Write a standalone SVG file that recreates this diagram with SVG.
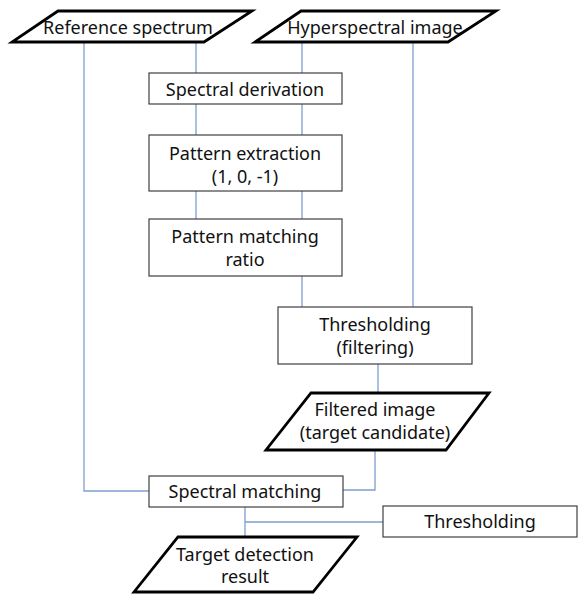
<svg xmlns="http://www.w3.org/2000/svg" width="583" height="595" viewBox="0 0 583 595">
<style>
text{font-family:"Noto Sans","Open Sans","DejaVu Sans",sans-serif;font-size:18px;fill:#111;text-anchor:middle}
.box{fill:#fff;stroke:#404040;stroke-width:1.2}
.io{fill:#fff;stroke:#000;stroke-width:2.8;stroke-linejoin:miter}
.c{fill:none;stroke:#7f9fd0;stroke-width:1.3}
</style>
<rect width="583" height="595" fill="#fff"/>
<g id="connectors">
<path class="c" d="M84,42V491H149"/>
<path class="c" d="M196,42V73M196,104V135M196,191V219"/>
<path class="c" d="M302,42V73M302,104V135M302,191V219M302,276V307"/>
<path class="c" d="M413,42V307"/>
<path class="c" d="M378,364V393"/>
<path class="c" d="M375,450V490H343"/>
<path class="c" d="M245,507V537M245,522H383"/>
</g>
<g id="ref-spectrum"><polygon class="io" points="58,11 252,11 204,42 12,42"/><text x="128" y="34">Reference spectrum</text></g>
<g id="hyperspectral"><polygon class="io" points="301,11 496,11 448,42 255,42"/><text x="375" y="34">Hyperspectral image</text></g>
<g id="spectral-derivation"><rect class="box" x="149" y="73" width="193" height="31"/><text x="245" y="96">Spectral derivation</text></g>
<g id="pattern-extraction"><rect class="box" x="149" y="135" width="193" height="56"/><text x="245" y="160">Pattern extraction</text><text x="245" y="183">(1, 0, -1)</text></g>
<g id="pattern-matching"><rect class="box" x="149" y="219" width="193" height="57"/><text x="245" y="243">Pattern matching</text><text x="245" y="266">ratio</text></g>
<g id="thresholding-filtering"><rect class="box" x="278" y="307" width="194" height="57"/><text x="375" y="331">Thresholding</text><text x="375" y="354">(filtering)</text></g>
<g id="filtered-image"><polygon class="io" points="311,393 489,393 446,450 266,450"/><text x="375" y="416">Filtered image</text><text x="375" y="439">(target candidate)</text></g>
<g id="spectral-matching"><rect class="box" x="149" y="476" width="194" height="31"/><text x="245" y="498">Spectral matching</text></g>
<g id="thresholding"><rect class="box" x="383" y="506" width="194" height="31"/><text x="480" y="528">Thresholding</text></g>
<g id="target-detection"><polygon class="io" points="178,537 357,537 313,592 134,592"/><text x="245" y="561">Target detection</text><text x="245" y="583">result</text></g>
</svg>
